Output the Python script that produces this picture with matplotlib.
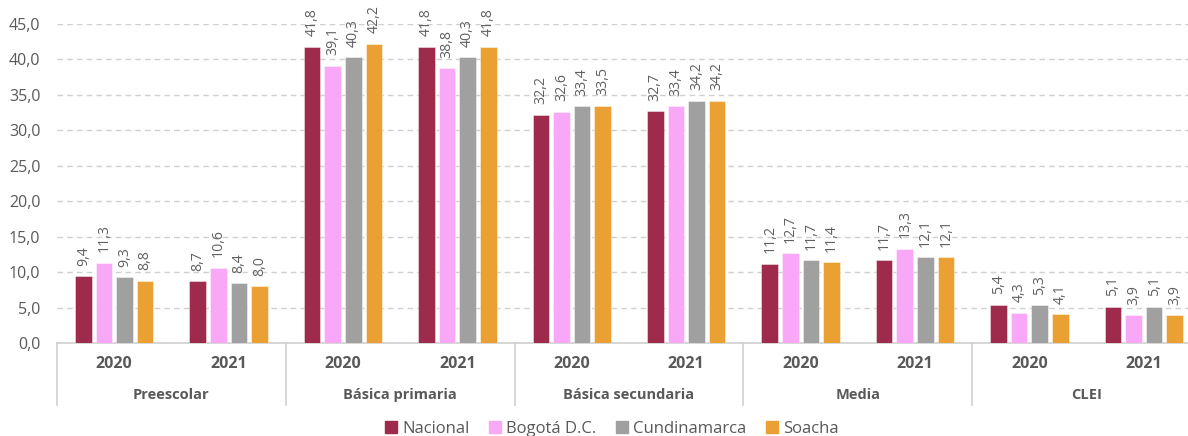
import numpy as np
import matplotlib
matplotlib.use("Agg")
import matplotlib.pyplot as plt
from matplotlib.patches import Patch

plt.rcParams['font.family'] = ['Open Sans', 'DejaVu Sans']

niveles = ["Preescolar", "Básica primaria", "Básica secundaria", "Media", "CLEI"]
anios = ["2020", "2021"]
series = ["Nacional", "Bogotá D.C.", "Cundinamarca", "Soacha"]
colores = ["#9E2B4C", "#F8A8F6", "#A0A0A0", "#EBA033"]

# valores por nivel y año (orden: 2020, 2021 para cada nivel)
nacional = [9.4, 8.7, 41.8, 41.8, 32.2, 32.7, 11.2, 11.7, 5.4, 5.1]
bogota = [11.3, 10.6, 39.1, 38.8, 32.6, 33.4, 12.7, 13.3, 4.3, 3.9]
cundinamarca = [9.3, 8.4, 40.3, 40.3, 33.4, 34.2, 11.7, 12.1, 5.3, 5.1]
soacha = [8.8, 8.0, 42.2, 41.8, 33.5, 34.2, 11.4, 12.1, 4.1, 3.9]
valores = [nacional, bogota, cundinamarca, soacha]

gris = "#595959"

fig = plt.figure(figsize=(11.88, 4.36), dpi=100)
ax = fig.add_axes((57 / 1188, 93 / 436, 1144 / 1188, 319 / 436))

x = np.arange(len(nacional))
paso = 0.18
ancho = 0.145
for i, (vals, col) in enumerate(zip(valores, colores)):
    pos = x + (i - 1.5) * paso
    ax.bar(pos, vals, width=ancho, color=col, edgecolor="#FFFFFF80",
           linewidth=0.6, zorder=3)
    for p, v in zip(pos, vals):
        ax.annotate(f"{v:.1f}".replace(".", ","), (p, v), xytext=(0, 7.5),
                    textcoords="offset points", rotation=90, ha="center",
                    va="bottom", fontsize=10.2, color="#606060",
                    annotation_clip=False)

ax.set_xlim(-0.5, len(nacional) - 0.5)
ax.set_ylim(0, 45)
ax.set_yticks(np.arange(0, 46, 5))
ax.set_yticklabels([f"{t:.1f}".replace(".", ",") for t in np.arange(0, 46, 5)])
ax.tick_params(axis="y", length=0, pad=12, labelsize=11.5, labelcolor=gris)
ax.set_xticks([])
ax.grid(axis="y", color="#D0D0D0", linestyle=(0, (4, 3)), linewidth=1, zorder=0)
for s in ["top", "right", "left"]:
    ax.spines[s].set_visible(False)
ax.spines["bottom"].set_color("#CFCFCF")
ax.spines["bottom"].set_linewidth(1.2)

tr = ax.get_xaxis_transform()
for j in range(len(nacional)):
    ax.text(j, -0.066, anios[j % 2], transform=tr, ha="center", va="center",
            fontsize=11.5, fontweight="bold", color=gris)
for k, nivel in enumerate(niveles):
    ax.text(2 * k + 0.5, -0.163, nivel, transform=tr, ha="center", va="center",
            fontsize=10.5, fontweight="bold", color=gris)
for k in range(len(niveles) + 1):
    ax.plot([2 * k - 0.5] * 2, [0, -0.194], transform=tr, color="#CFCFCF",
            linewidth=1.2, clip_on=False)

handles = [Patch(color=c, label=s) for s, c in zip(series, colores)]
fig.legend(handles=handles, loc="center", bbox_to_anchor=(612 / 1188, 1 - 429 / 436),
           ncol=4, frameon=False, fontsize=12, labelcolor=gris, handlelength=0.7,
           handleheight=0.7, handletextpad=0.3, columnspacing=1.2)

fig.savefig("out.png", dpi=100)
